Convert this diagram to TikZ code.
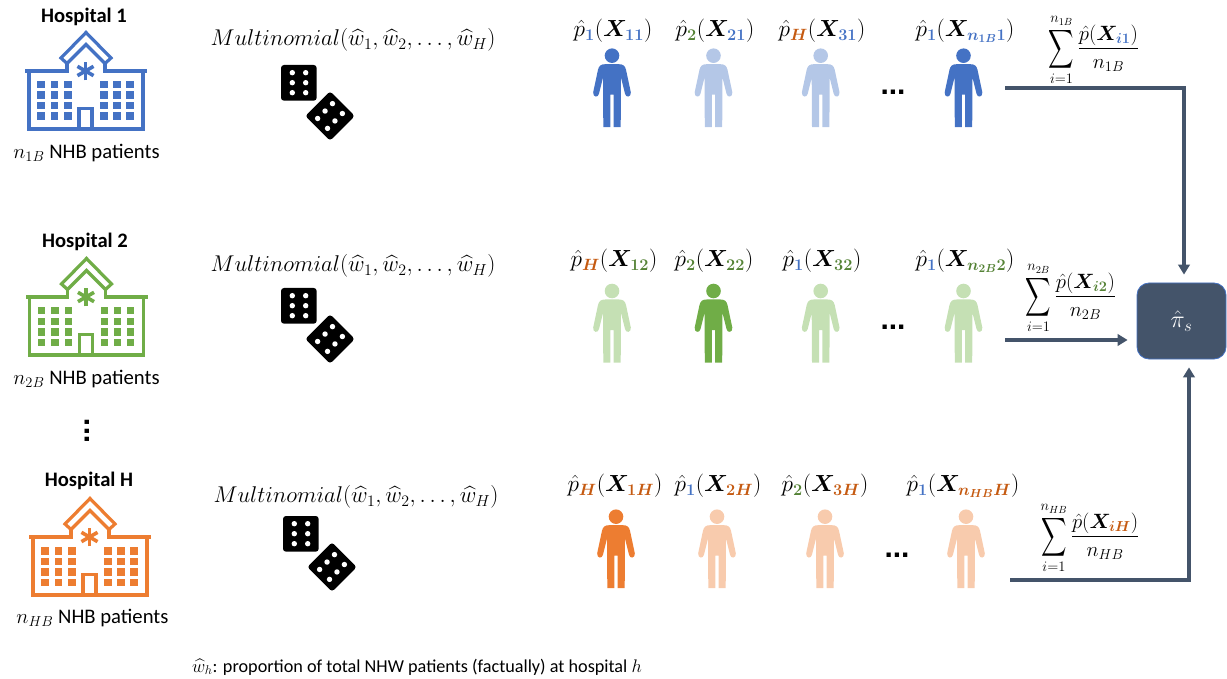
\RequirePackage{fix-cm}
\documentclass[tikz,border=0pt]{standalone}
\usepackage{amsmath}
\usepackage{bm}
\usepackage{fontspec}
\setmainfont{Carlito}
\newfontfamily\dotfont{Liberation Sans}
\usetikzlibrary{arrows.meta,calc}
\definecolor{cblue}{HTML}{4472C4}
\definecolor{cgreen}{HTML}{70AD47}
\definecolor{corange}{HTML}{ED7D31}
\definecolor{lblue}{HTML}{B4C7E7}
\definecolor{lgreen}{HTML}{C5E0B4}
\definecolor{lorange}{HTML}{F8CBAD}
\definecolor{tblue}{HTML}{4472C4}
\definecolor{tgreen}{HTML}{548235}
\definecolor{torange}{HTML}{C55A11}
\definecolor{slatec}{HTML}{44546A}
\newcommand\bc[2]{\textcolor{#1}{\bm{#2}}}
\newcommand\phx[3]{$\hat p_{\bc{#1}{#2}}(\bm{X}_{#3})$}
\newcommand\multi{$Multinomial(\widehat w_1,\widehat w_2,\dots,\widehat w_H)$}
\newcommand\tallsum{\mathop{\vcenter{\hbox{\scalebox{0.85}[1.3]{$\displaystyle\sum$}}}}\limits}
\newcommand\nsum[3]{$\displaystyle\tallsum_{i=1}^{#1}\frac{\hat p(\bm{X}_{#2})}{#3}$}
\tikzset{
 x=1pt,y=-1pt,
 multilabel/.style={inner sep=0pt,font=\fontsize{22.8}{26}\selectfont},
 mathlabel/.style={inner sep=0pt,font=\fontsize{23.3}{28}\selectfont},
 sumlabel/.style={inner sep=0pt,font=\fontsize{20.7}{25}\selectfont},
 caption/.style={inner sep=0pt,font=\fontsize{20.7}{24}\selectfont},
 title/.style={inner sep=0pt,font=\fontsize{20.6}{24}\selectfont\bfseries},
 ell/.style={inner sep=0pt,font=\fontsize{30}{30}\selectfont\dotfont\bfseries},
 conn/.style={draw=slatec,line width=3.3pt,-{Triangle[width=11.5pt,length=10pt]}},
 pics/hospital/.style={code={
  \draw[#1,line width=3.2pt,fill=white,line join=miter] (86,32.5)--(111,58)--(105,63.5)--(86,44.5)--(67,63.5)--(61,58)--cycle;
  \draw[#1,line width=3.6pt,line join=miter] (67,63.5)--(67,71)--(25,71) (105,63.5)--(105,71)--(147,71);
  \draw[#1,line width=3.6pt,line join=miter] (29,71)--(29,129)--(143,129)--(143,71);
  \foreach \a in {90,30,150}{\draw[#1,line width=3.6pt] ($(85.5,71)+(\a:9.3)$)--($(85.5,71)+(\a+180:9.3)$);}
  \foreach \wx in {37,50.5,64,100,113,126}{\foreach \wy in {81,91.5,102,112.5}{
    \fill[#1] (\wx,\wy) rectangle ++(7.5,7.5);}}
  \draw[#1,line width=3.2pt] (79,129)--(79,108.5)--(92,108.5)--(92,129);
 }},
 pics/person/.style={code={
  \fill[#1] (0,0) circle (7.3);
  \fill[#1] (-7,8.5)--(7,8.5) .. controls (11,8.5) and (13,10) .. (14,14)--(18.8,36.5)
    .. controls (19.5,41.5) and (13.8,42.5) .. (13,38)--(9,22)--(8.7,71.5)--(1.7,71.5)--(1.7,39)--(-1.7,39)--(-1.7,71.5)--(-8.7,71.5)--(-9,22)--(-13,38)
    .. controls (-13.8,42.5) and (-19.5,41.5) .. (-18.8,36.5)--(-14,14) .. controls (-13,10) and (-11,8.5) .. (-7,8.5)--cycle;
 }},
 pics/dice/.style={code={
  \fill[black,rounded corners=3pt] (281,65) rectangle (316.7,100.7);
  \foreach \px in {292.3,305.7}{\foreach \py in {72.7,82.7,92.7}{\fill[white] (\px,\py) circle (2.7);}}
  \begin{scope}[shift={(330,116)},rotate=-45]
   \fill[black,rounded corners=3pt] (-17.5,-17.5) rectangle (17.5,17.5);
   \foreach \px in {-7,7}{\foreach \py in {-10.5,0,10.5}{\fill[white] (\px,\py) circle (2.7);}}
  \end{scope}
 }},
}
\begin{document}
\begin{tikzpicture}
\useasboundingbox (0,0) rectangle (1227,679);
% hospitals
\pic (h1) at (0,0) {hospital=cblue};
\pic (h2) at (0.5,226) {hospital=cgreen};
\pic (h3) at (4,466) {hospital=corange};
\node[title] (t1) at (84,16.5) {Hospital 1};
\node[title] (t2) at (85,242) {Hospital 2};
\node[title] (t3) at (89,481) {Hospital H};
\node[caption] (c1) at (86.5,153) {$n_{1B}$ NHB patients};
\node[caption] (c2) at (86.5,379) {$n_{2B}$ NHB patients};
\node[caption] (c3) at (92.5,618) {$n_{HB}$ NHB patients};
\node[ell,rotate=90] (vd) at (87,431) {...};
% multinomials
\node[multilabel] (m1) at (353,40) {\multi};
\node[multilabel] (m2) at (353,266) {\multi};
\node[multilabel] (m3) at (356,497) {\multi};
\pic (d1) at (0,0) {dice};
\pic (d2) at (0,223) {dice};
\pic (d3) at (2,451) {dice};
% persons row 1
\pic (p11) at (612,55.7) {person=cblue};
\pic (p12) at (713.5,55.7) {person=lblue};
\pic (p13) at (820.7,55.7) {person=lblue};
\pic (p14) at (963.5,55.7) {person=cblue};
% row 2
\pic (p21) at (612,291) {person=lgreen};
\pic (p22) at (713.5,291) {person=cgreen};
\pic (p23) at (820.7,291) {person=lgreen};
\pic (p24) at (963.5,291) {person=lgreen};
% row 3
\pic (p31) at (616,516.7) {person=corange};
\pic (p32) at (717,516.7) {person=lorange};
\pic (p33) at (825,516.7) {person=lorange};
\pic (p34) at (966,516.7) {person=lorange};
% labels
\node[mathlabel] (l11) at (613,31) {\phx{tblue}{1}{\bc{tblue}{11}}};
\node[mathlabel] (l12) at (715,31) {\phx{tgreen}{2}{\bc{tblue}{21}}};
\node[mathlabel] (l13) at (822,31) {\phx{torange}{H}{\bc{tblue}{31}}};
\node[mathlabel] (l14) at (965,31) {\phx{tblue}{1}{\bc{tblue}{n_{1B}1}}};
\node[mathlabel] (l21) at (614,261) {\phx{torange}{H}{\bc{tgreen}{12}}};
\node[mathlabel] (l22) at (714,261) {\phx{tgreen}{2}{\bc{tgreen}{22}}};
\node[mathlabel] (l23) at (822,261) {\phx{tblue}{1}{\bc{tgreen}{32}}};
\node[mathlabel] (l24) at (965,261) {\phx{tblue}{1}{\bc{tgreen}{n_{2B}2}}};
\node[mathlabel] (l31) at (615,486) {\phx{torange}{H}{\bc{torange}{1H}}};
\node[mathlabel] (l32) at (718,486) {\phx{tblue}{1}{\bc{torange}{2H}}};
\node[mathlabel] (l33) at (825,486) {\phx{tgreen}{2}{\bc{torange}{3H}}};
\node[mathlabel] (l34) at (963,486) {\phx{tblue}{1}{\bc{torange}{n_{HB}H}}};
% ellipses
\node[ell] (e1) at (893,92) {...};
\node[ell] (e2) at (893,327) {...};
\node[ell] (e3) at (897,555) {...};
% sums
\node[sumlabel] (s1) at (1094,50) {\nsum{n_{1B}}{\bc{tblue}{i1}}{n_{1B}}};
\node[sumlabel] (s2) at (1071,298) {\nsum{n_{2B}}{\bc{tgreen}{i2}}{n_{2B}}};
\node[sumlabel] (s3) at (1090,538) {\nsum{n_{HB}}{\bc{torange}{iH}}{n_{HB}}};
% result
\node[draw=cblue,fill=slatec,line width=0.8pt,rounded corners=12pt,minimum width=89pt,minimum height=76pt,inner sep=0pt,text=white,font=\fontsize{24}{28}\selectfont] (pis) at (1181.5,321) {\raisebox{-2pt}{$\hat\pi_s$}};
\coordinate (a1) at (1005,88);
\coordinate (a2) at (1005,340);
\coordinate (a3) at (1010,580);
\draw[conn,shorten >=8pt] (a1) -| ([xshift=2.5pt]pis.north);
\draw[conn,shorten >=9pt] (a2) -- (a2 -| pis.west);
\draw[conn,shorten >=8pt] (a3) -| ([xshift=7.5pt]pis.south);
% note
\node[anchor=west,inner sep=0pt,font=\fontsize{18.2}{22}\selectfont] (note) at (192,667) {$\widehat w_h$: proportion of total NHW patients (factually) at hospital $h$};
\end{tikzpicture}
\end{document}
